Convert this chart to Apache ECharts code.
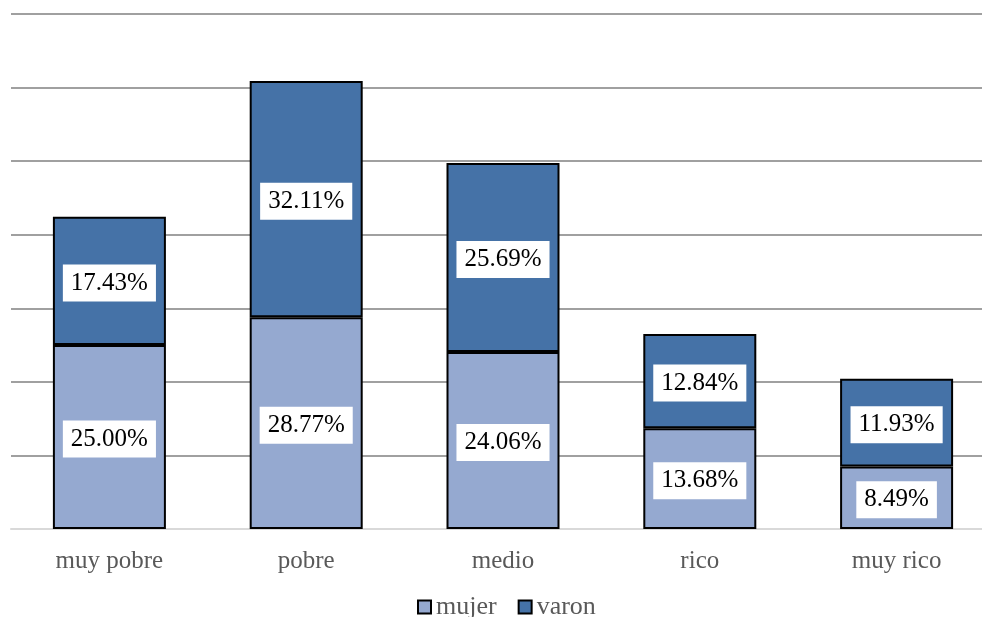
<!DOCTYPE html>
<html>
<head>
<meta charset="utf-8">
<script src="https://cdn.jsdelivr.net/npm/echarts@6/dist/echarts.min.js"></script>
<style>
  html, body { margin: 0; padding: 0; background: #ffffff; overflow: hidden; }
  #chart { width: 1000px; height: 617px; }
</style>
</head>
<body>
<div id="chart"></div>
<script>
// Income groups and share of each sex (%)
const categories = ['muy pobre', 'pobre', 'medio', 'rico', 'muy rico'];
const mujer = [25.00, 28.77, 24.06, 13.68, 8.49];
const varon = [17.43, 32.11, 25.69, 12.84, 11.93];
const seriesNames = ['mujer', 'varon'];

const FONT = '"Liberation Serif", "DejaVu Serif", serif';

const labelStyle = {
  show: true,
  position: 'inside',
  formatter: p => p.value.toFixed(2) + '%',
  backgroundColor: '#ffffff',
  color: '#000000',
  fontFamily: FONT,
  fontSize: 25,
  lineHeight: 25,
  padding: [7, 8, 5, 8],
  offset: [0, 2]
};

const chart = echarts.init(document.getElementById('chart'), null, { renderer: 'canvas' });
chart.setOption({
  animation: false,
  backgroundColor: '#ffffff',
  grid: { left: 11, width: 984, top: 14, bottom: 88, containLabel: false },
  legend: {
    top: 594,
    left: 417,
    padding: 0,
    itemWidth: 13,
    itemHeight: 13,
    itemGap: 21,
    textStyle: { fontFamily: FONT, fontSize: 26, color: '#595959' },
    data: seriesNames.map(n => ({ name: n, icon: 'rect', itemStyle: { borderColor: '#000', borderWidth: 2 } }))
  },
  xAxis: {
    type: 'category',
    data: categories,
    axisLine: { show: true, lineStyle: { color: '#d9d9d9', width: 2 } },
    axisTick: { show: false },
    axisLabel: { fontFamily: FONT, fontSize: 25, color: '#595959', margin: 20 }
  },
  yAxis: {
    type: 'value',
    min: 0,
    max: 70,
    interval: 10,
    axisLabel: { show: false },
    axisLine: { show: false },
    axisTick: { show: false },
    splitLine: { lineStyle: { color: '#a0a0a0', width: 2 } }
  },
  series: [
    {
      name: seriesNames[0],
      type: 'bar',
      stack: 'total',
      barWidth: 113,
      data: mujer,
      itemStyle: { color: '#95a9d0', borderColor: '#000000', borderWidth: 2 },
      label: labelStyle
    },
    {
      name: seriesNames[1],
      type: 'bar',
      stack: 'total',
      barWidth: 113,
      data: varon,
      itemStyle: { color: '#4572a7', borderColor: '#000000', borderWidth: 2 },
      label: labelStyle
    }
  ]
});
</script>
</body>
</html>
